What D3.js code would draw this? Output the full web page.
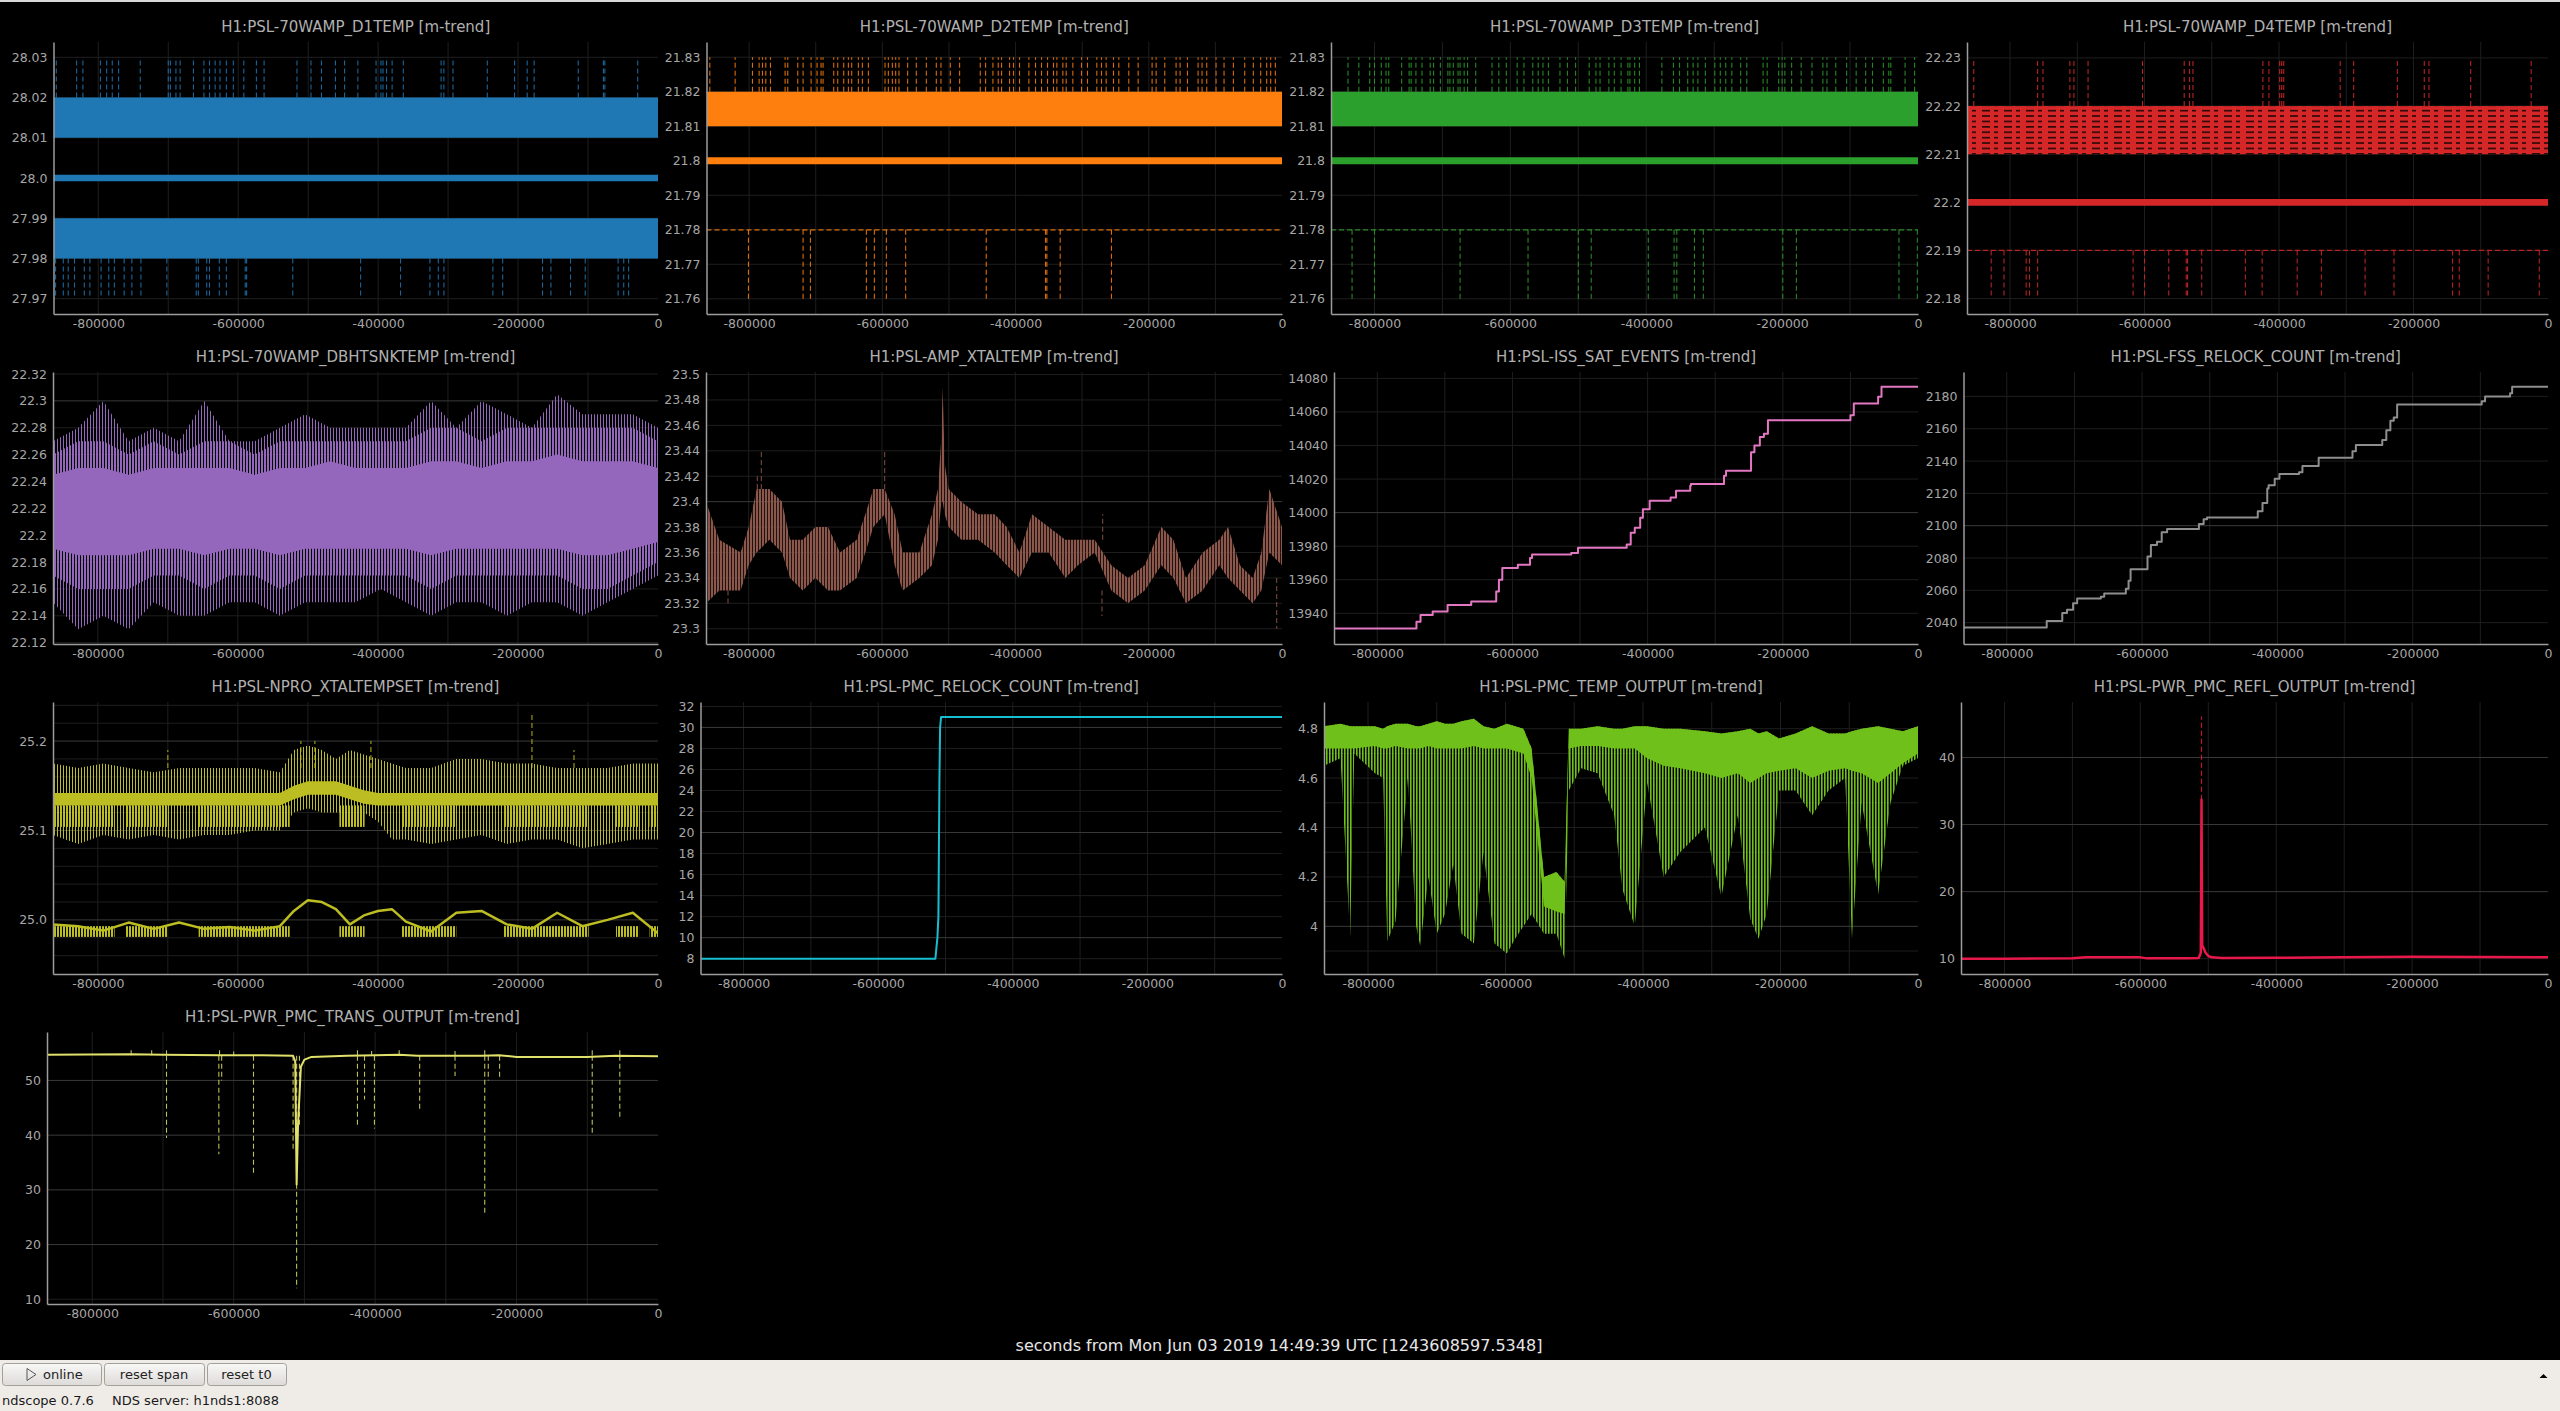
<!DOCTYPE html>
<html>
<head>
<meta charset="utf-8">
<script src="https://cdn.jsdelivr.net/npm/d3@7"></script>
<style>
  html, body { margin: 0; padding: 0; background: #000; overflow: hidden; }
  svg { display: block; }
</style>
</head>
<body>
<svg id="scope" width="2560" height="1411"></svg>
<script>
/*------------------------------
 DATA
 ----------------------------*/
const X_SPAN = [-864000, 0];
const xTickVals = [-800000, -600000, -400000, -200000, 0];
const xTickLabels = ["-800000", "-600000", "-400000", "-200000", "0"];
const xMinorVals = [-700000, -500000, -300000, -100000];

const TITLES = ["H1:PSL-70WAMP_D1TEMP [m-trend]", "H1:PSL-70WAMP_D2TEMP [m-trend]", "H1:PSL-70WAMP_D3TEMP [m-trend]",
  "H1:PSL-70WAMP_D4TEMP [m-trend]", "H1:PSL-70WAMP_DBHTSNKTEMP [m-trend]", "H1:PSL-AMP_XTALTEMP [m-trend]",
  "H1:PSL-ISS_SAT_EVENTS [m-trend]", "H1:PSL-FSS_RELOCK_COUNT [m-trend]", "H1:PSL-NPRO_XTALTEMPSET [m-trend]",
  "H1:PSL-PMC_RELOCK_COUNT [m-trend]", "H1:PSL-PMC_TEMP_OUTPUT [m-trend]", "H1:PSL-PWR_PMC_REFL_OUTPUT [m-trend]",
  "H1:PSL-PWR_PMC_TRANS_OUTPUT [m-trend]"];

// y ranges + ticks
const p1YRange = [27.9662, 28.0338];
const p1YTicks = [27.97, 27.98, 27.99, 28.0, 28.01, 28.02, 28.03];
const p1YLabels = ["27.97", "27.98", "27.99", "28.0", "28.01", "28.02", "28.03"];
const p2YRange = [21.7556, 21.8344];
const p2YTicks = [21.76, 21.77, 21.78, 21.79, 21.8, 21.81, 21.82, 21.83];
const p2YLabels = ["21.76", "21.77", "21.78", "21.79", "21.8", "21.81", "21.82", "21.83"];
const p4YRange = [22.1768, 22.2333];
const p4YTicks = [22.18, 22.19, 22.2, 22.21, 22.22, 22.23];
const p4YLabels = ["22.18", "22.19", "22.2", "22.21", "22.22", "22.23"];
const p5YRange = [22.119, 22.3215];
const p5YTicks = [22.12, 22.14, 22.16, 22.18, 22.2, 22.22, 22.24, 22.26, 22.28, 22.3, 22.32];
const p5YLabels = ["22.12", "22.14", "22.16", "22.18", "22.2", "22.22", "22.24", "22.26", "22.28", "22.3", "22.32"];
const p6YRange = [23.288, 23.502];
const p6YTicks = [23.3, 23.32, 23.34, 23.36, 23.38, 23.4, 23.42, 23.44, 23.46, 23.48, 23.5];
const p6YLabels = ["23.3", "23.32", "23.34", "23.36", "23.38", "23.4", "23.42", "23.44", "23.46", "23.48", "23.5"];
const p7YRange = [13921.7, 14083.8];
const p7YTicks = [13940, 13960, 13980, 14000, 14020, 14040, 14060, 14080];
const p7YLabels = ["13940", "13960", "13980", "14000", "14020", "14040", "14060", "14080"];
const p8YRange = [2026.8, 2195.1];
const p8YTicks = [2040, 2060, 2080, 2100, 2120, 2140, 2160, 2180];
const p8YLabels = ["2040", "2060", "2080", "2100", "2120", "2140", "2160", "2180"];
const p9YRange = [24.9395, 25.2437];
const p9YTicks = [25.0, 25.1, 25.2];
const p9YLabels = ["25.0", "25.1", "25.2"];
const p9YMinor = [24.96, 24.98, 25.02, 25.04, 25.06, 25.08, 25.12, 25.14, 25.16, 25.18, 25.22, 25.24];
const p10YRange = [6.543, 32.42];
const p10YTicks = [8, 10, 12, 14, 16, 18, 20, 22, 24, 26, 28, 30, 32];
const p10YLabels = ["8", "10", "12", "14", "16", "18", "20", "22", "24", "26", "28", "30", "32"];
const p11YRange = [3.807, 4.908];
const p11YTicks = [4.0, 4.2, 4.4, 4.6, 4.8];
const p11YLabels = ["4", "4.2", "4.4", "4.6", "4.8"];
const p11YMinor = [3.9, 4.1, 4.3, 4.5, 4.7];
const p12YRange = [7.72, 48.27];
const p12YTicks = [10, 20, 30, 40];
const p12YLabels = ["10", "20", "30", "40"];
const p13YRange = [9.14, 58.85];
const p13YTicks = [10, 20, 30, 40, 50];
const p13YLabels = ["10", "20", "30", "40", "50"];

// D1..D4 temps: max band, mean band, min band/level, spikes
const d1MaxBand = [28.01, 28.02];
const d1MeanBand = [27.9992, 28.0008];
const d1MinBand = [27.98, 27.99];
const d1UpTimes = [-860000, -831000, -822000, -797000, -788000, -780000, -771000, -740000, -700000, -697000, -689000,
  -683000, -664000, -649000, -641000, -633000, -626000, -617000, -607000, -592000, -574000, -563000, -516000, -496000,
  -481000, -461000, -448000, -429000, -403000, -396000, -393000, -388000, -380000, -364000, -310000, -306000, -293000,
  -244000, -205000, -187000, -177000, -114000, -78000, -76000, -29000];
const d1DownTimes = [-861000, -850000, -843000, -834000, -820000, -812000, -796000, -785000, -777000, -763000, -752000,
  -739000, -702000, -660000, -657000, -645000, -641000, -627000, -617000, -590000, -588000, -522000, -425000, -368000,
  -326000, -314000, -306000, -236000, -222000, -165000, -153000, -125000, -104000, -57000, -49000, -42000];

const d2MaxBand = [21.81, 21.82];
const d2MeanBand = [21.799, 21.801];
const d2MinLevel = 21.78;
const d2UpTimes = [-859000, -821000, -795000, -785000, -780000, -775000, -768000, -746000, -742000, -727000, -719000,
  -707000, -698000, -692000, -689000, -673000, -667000, -658000, -651000, -646000, -636000, -630000, -621000, -596000,
  -591000, -585000, -580000, -575000, -562000, -549000, -534000, -519000, -512000, -498000, -484000, -453000, -445000,
  -434000, -426000, -421000, -409000, -403000, -394000, -380000, -370000, -361000, -352000, -343000, -338000, -329000,
  -324000, -314000, -301000, -292000, -278000, -271000, -264000, -253000, -245000, -230000, -216000, -195000, -189000,
  -176000, -159000, -153000, -142000, -126000, -120000, -113000, -99000, -87000, -73000, -56000, -43000, -32000,
  -23000, -17000, -10000];
const d2DownTimes = [-801000, -719000, -708000, -624000, -612000, -594000, -565000, -444000, -355000, -353000, -333000, -256000];

const d3MaxBand = [21.81, 21.82];
const d3MeanBand = [21.799, 21.801];
const d3MinLevel = 21.78;
const d3UpTimes = [-839000, -823000, -807000, -800000, -790000, -783000, -779000, -760000, -749000, -746000, -739000,
  -730000, -718000, -713000, -703000, -692000, -689000, -684000, -677000, -674000, -668000, -663000, -651000, -627000,
  -617000, -606000, -590000, -580000, -567000, -559000, -552000, -544000, -527000, -516000, -504000, -484000, -474000,
  -468000, -455000, -447000, -437000, -427000, -424000, -417000, -410000, -377000, -360000, -351000, -339000, -331000,
  -324000, -313000, -299000, -291000, -283000, -274000, -261000, -252000, -228000, -222000, -205000, -200000, -196000,
  -186000, -172000, -156000, -140000, -134000, -121000, -105000, -91000, -77000, -67000, -51000, -43000, -40000,
  -19000, -5000];
const d3DownTimes = [-833000, -800000, -674000, -574000, -500000, -481000, -397000, -359000, -355000, -329000, -316000,
  -199000, -179000, -28000, -1000];

const d4MaxBand = [22.21, 22.22];
const d4MeanBand = [22.1993, 22.2007];
const d4MinLevel = 22.19;
const d4UpTimes = [-854000, -759000, -751000, -711000, -705000, -684000, -603000, -541000, -533000, -528000, -424000,
  -415000, -399000, -396000, -393000, -309000, -289000, -224000, -184000, -177000, -115000, -25000];
const d4DownTimes = [-828000, -809000, -776000, -771000, -759000, -617000, -600000, -564000, -538000, -536000, -515000,
  -450000, -425000, -373000, -337000, -272000, -229000, -142000, -132000, -89000, -13000];

// DBHTSNKTEMP: outer/mid/core envelopes
const p5Time = [-864000, -828000, -792000, -756000, -720000, -684000, -648000, -612000, -576000, -540000, -504000,
  -468000, -432000, -396000, -360000, -324000, -288000, -252000, -216000, -180000, -144000, -108000, -72000, -36000, 0];
const p5Max = [22.27, 22.28, 22.30, 22.27, 22.28, 22.27, 22.30, 22.27, 22.27, 22.28, 22.29, 22.28, 22.28, 22.28, 22.28,
  22.30, 22.28, 22.30, 22.29, 22.28, 22.305, 22.29, 22.29, 22.29, 22.28];
const p5Min = [22.15, 22.13, 22.14, 22.13, 22.15, 22.14, 22.14, 22.15, 22.15, 22.14, 22.15, 22.15, 22.15, 22.16, 22.15,
  22.14, 22.15, 22.15, 22.14, 22.15, 22.15, 22.14, 22.15, 22.16, 22.17];
const p5Hi = [22.26, 22.27, 22.27, 22.26, 22.27, 22.26, 22.27, 22.27, 22.26, 22.27, 22.27, 22.27, 22.27, 22.27, 22.27,
  22.28, 22.28, 22.27, 22.28, 22.28, 22.28, 22.28, 22.28, 22.28, 22.27];
const p5Lo = [22.17, 22.16, 22.16, 22.16, 22.17, 22.17, 22.16, 22.17, 22.17, 22.16, 22.17, 22.17, 22.17, 22.17, 22.17,
  22.16, 22.17, 22.17, 22.17, 22.17, 22.17, 22.16, 22.16, 22.17, 22.18];
const p5CoreHi = [22.245, 22.25, 22.25, 22.245, 22.25, 22.25, 22.25, 22.25, 22.245, 22.25, 22.25, 22.255, 22.25, 22.25,
  22.25, 22.255, 22.255, 22.25, 22.255, 22.255, 22.26, 22.255, 22.255, 22.255, 22.25];
const p5CoreLo = [22.19, 22.185, 22.185, 22.185, 22.19, 22.19, 22.185, 22.19, 22.19, 22.185, 22.19, 22.19, 22.19, 22.19,
  22.19, 22.185, 22.19, 22.19, 22.19, 22.19, 22.19, 22.185, 22.185, 22.19, 22.195];

// AMP_XTALTEMP envelope
const p6Time = [-864000, -844000, -812000, -800000, -788000, -769000, -750000, -738000, -719000, -700000, -681000,
  -663000, -638000, -625000, -613000, -596000, -581000, -569000, -544000, -525000, -516000, -511000, -509000, -506000,
  -500000, -481000, -456000, -431000, -413000, -394000, -375000, -350000, -325000, -306000, -281000, -256000, -231000,
  -206000, -181000, -163000, -144000, -119000, -94000, -81000, -63000, -44000, -31000, -19000, 0];
const p6Hi = [23.40, 23.37, 23.36, 23.38, 23.41, 23.41, 23.40, 23.37, 23.37, 23.38, 23.38, 23.36, 23.37, 23.39, 23.41,
  23.41, 23.39, 23.36, 23.36, 23.39, 23.41, 23.45, 23.49, 23.43, 23.41, 23.40, 23.39, 23.39, 23.38, 23.36, 23.39, 23.38,
  23.37, 23.37, 23.37, 23.35, 23.34, 23.35, 23.38, 23.37, 23.34, 23.36, 23.37, 23.38, 23.35, 23.34, 23.36, 23.41, 23.38];
const p6Lo = [23.32, 23.33, 23.33, 23.35, 23.36, 23.37, 23.36, 23.34, 23.33, 23.34, 23.33, 23.33, 23.34, 23.36, 23.38,
  23.39, 23.35, 23.33, 23.34, 23.35, 23.37, 23.40, 23.40, 23.39, 23.38, 23.37, 23.37, 23.36, 23.35, 23.34, 23.36, 23.36,
  23.34, 23.35, 23.36, 23.33, 23.32, 23.33, 23.35, 23.34, 23.32, 23.33, 23.35, 23.34, 23.33, 23.32, 23.33, 23.36, 23.35];
const p6SpikeTime = [-787000, -781000, -596000, -269000, -831000, -270000, -8000];
const p6SpikeFrom = [23.41, 23.41, 23.41, 23.37, 23.33, 23.33, 23.34];
const p6SpikeTo = [23.42, 23.44, 23.44, 23.39, 23.32, 23.31, 23.30];

// ISS_SAT_EVENTS steps
const p7Time = [-864000, -742000, -736000, -718000, -696000, -661000, -624000, -620000, -615000, -592000, -574000,
  -571000, -513000, -503000, -431000, -425000, -419000, -411000, -407000, -397000, -366000, -358000, -337000, -336000,
  -287000, -284000, -247000, -242000, -234000, -228000, -222000, -100000, -95000, -59000, -54000, 0];
const p7Count = [13931, 13935, 13939, 13941, 13945, 13947, 13953, 13960, 13967, 13969, 13973, 13975, 13976, 13979,
  13981, 13988, 13991, 13997, 14002, 14007, 14009, 14013, 14016, 14017, 14022, 14025, 14036, 14040, 14045, 14047,
  14055, 14058, 14065, 14069, 14075, 14075];

// FSS_RELOCK_COUNT steps
const p8Time = [-864000, -741000, -718000, -711000, -702000, -696000, -661000, -656000, -624000, -620000, -617000,
  -592000, -587000, -578000, -571000, -563000, -516000, -509000, -504000, -429000, -422000, -415000, -413000, -404000,
  -397000, -368000, -363000, -339000, -289000, -284000, -245000, -239000, -233000, -228000, -223000, -98000, -93000,
  -56000, -53000, 0];
const p8Count = [2037, 2041, 2046, 2048, 2052, 2055, 2056, 2058, 2061, 2066, 2073, 2081, 2088, 2090, 2096, 2098, 2101,
  2104, 2105, 2109, 2114, 2123, 2125, 2129, 2132, 2133, 2137, 2142, 2146, 2150, 2153, 2159, 2165, 2167, 2175, 2177,
  2180, 2182, 2186, 2186];

// NPRO_XTALTEMPSET
const p9Time = [-864000, -828000, -792000, -756000, -720000, -684000, -648000, -612000, -576000, -540000, -520000,
  -500000, -480000, -460000, -440000, -420000, -400000, -380000, -360000, -324000, -288000, -252000, -216000, -180000,
  -144000, -108000, -72000, -36000, 0];
const p9UpHi = [25.175, 25.17, 25.175, 25.17, 25.165, 25.17, 25.17, 25.17, 25.17, 25.165, 25.19, 25.195, 25.19, 25.18,
  25.19, 25.185, 25.18, 25.175, 25.17, 25.17, 25.18, 25.18, 25.175, 25.175, 25.17, 25.17, 25.17, 25.175, 25.175];
const p9UpLo = [25.095, 25.085, 25.095, 25.09, 25.095, 25.09, 25.095, 25.095, 25.10, 25.10, 25.12, 25.125, 25.12, 25.12,
  25.12, 25.12, 25.11, 25.09, 25.09, 25.085, 25.09, 25.095, 25.085, 25.09, 25.09, 25.08, 25.085, 25.09, 25.09];
const p9CoreHi = [25.142, 25.142, 25.142, 25.142, 25.142, 25.142, 25.142, 25.142, 25.142, 25.142, 25.15, 25.155, 25.155,
  25.155, 25.15, 25.145, 25.142, 25.142, 25.142, 25.142, 25.142, 25.142, 25.142, 25.142, 25.142, 25.142, 25.142, 25.142, 25.142];
const p9CoreLo = [25.128, 25.128, 25.128, 25.128, 25.128, 25.128, 25.128, 25.128, 25.128, 25.128, 25.135, 25.14, 25.14,
  25.14, 25.135, 25.13, 25.128, 25.128, 25.128, 25.128, 25.128, 25.128, 25.128, 25.128, 25.128, 25.128, 25.128, 25.128, 25.128];
const p9Low = [24.995, 24.993, 24.988, 24.997, 24.99, 24.997, 24.99, 24.992, 24.988, 24.993, 25.01, 25.022, 25.02,
  25.012, 24.995, 25.005, 25.01, 25.012, 24.998, 24.987, 25.008, 25.01, 24.995, 24.99, 25.008, 24.993, 25.0, 25.008, 24.985];
const p9PatchStart = [-864000, -760000, -656000, -455000, -366000, -220000, -60000, -12000];
const p9PatchEnd = [-776000, -700000, -526000, -419000, -288000, -99000, -27000, 0];
const p9UpPatch = [25.104, 25.128];
const p9LowPatch = [24.981, 24.993];
const p9SpikeTime = [-510000, -490000, -410000, -180000, -700000, -120000];
const p9SpikeTop = [25.20, 25.20, 25.20, 25.23, 25.19, 25.19];

// PMC_RELOCK_COUNT
const p10Time = [-864000, -515000, -512000, -510500, -509000, -508000, -506500, 0];
const p10Count = [8, 8, 10, 12, 25, 30, 31, 31];

// PMC_TEMP_OUTPUT
const p11Time = [-864000, -840000, -826000, -820000, -790000, -778000, -772000, -760000, -742000, -730000, -724000,
  -712000, -700000, -688000, -676000, -664000, -646000, -632000, -616000, -598000, -586000, -574000, -562000, -544000,
  -526000, -514000, -508000, -490000, -466000, -442000, -430000, -412000, -394000, -370000, -346000, -310000, -286000,
  -262000, -244000, -232000, -220000, -202000, -178000, -154000, -130000, -106000, -96000, -82000, -58000, -40000, -22000, 0];
const p11Max = [4.81, 4.82, 4.81, 4.81, 4.81, 4.80, 4.81, 4.82, 4.82, 4.81, 4.81, 4.82, 4.83, 4.82, 4.82, 4.83, 4.84,
  4.81, 4.80, 4.82, 4.81, 4.80, 4.72, 4.20, 4.22, 4.18, 4.80, 4.80, 4.81, 4.80, 4.80, 4.81, 4.81, 4.80, 4.80, 4.79, 4.78,
  4.79, 4.80, 4.78, 4.79, 4.76, 4.78, 4.81, 4.78, 4.78, 4.79, 4.80, 4.81, 4.80, 4.79, 4.81];
const p11CoreLo = [4.72, 4.72, 4.72, 4.72, 4.73, 4.72, 4.72, 4.73, 4.72, 4.72, 4.72, 4.73, 4.72, 4.72, 4.72, 4.72, 4.73,
  4.72, 4.72, 4.72, 4.71, 4.70, 4.60, 4.08, 4.06, 4.05, 4.72, 4.73, 4.73, 4.72, 4.72, 4.72, 4.68, 4.65, 4.64, 4.62, 4.60,
  4.62, 4.58, 4.60, 4.62, 4.63, 4.64, 4.60, 4.63, 4.64, 4.63, 4.62, 4.58, 4.62, 4.66, 4.70];
const p11Min = [4.65, 4.68, 3.96, 4.70, 4.62, 4.60, 3.94, 4.02, 4.60, 4.00, 3.92, 4.20, 3.97, 4.05, 4.25, 3.97, 3.93,
  4.30, 3.93, 3.89, 3.95, 4.00, 4.05, 3.97, 3.97, 3.87, 4.55, 4.64, 4.62, 4.45, 4.15, 4.00, 4.58, 4.20, 4.30, 4.40, 4.12,
  4.45, 4.03, 3.95, 4.05, 4.55, 4.55, 4.45, 4.55, 4.60, 3.95, 4.50, 4.13, 4.50, 4.65, 4.68];

// PWR_PMC_REFL_OUTPUT
const p12Time = [-864000, -800000, -700000, -680000, -600000, -590000, -530000, -514000, -511000, -510000, -509000,
  -507000, -504000, -500000, -495000, -480000, -400000, -300000, -250000, -200000, -100000, 0];
const p12Val = [10.0, 10.0, 10.05, 10.2, 10.2, 10.05, 10.05, 10.1, 10.9, 33.7, 12.0, 11.6, 10.9, 10.4, 10.2, 10.1,
  10.15, 10.2, 10.25, 10.3, 10.25, 10.2];
const p12SpikeTime = [-510000];
const p12SpikeTop = [46.1];

// PWR_PMC_TRANS_OUTPUT
const p13Time = [-864000, -745000, -700000, -620000, -560000, -516000, -513000, -511000, -509000, -505000, -500000,
  -490000, -440000, -400000, -366000, -340000, -250000, -225000, -200000, -100000, -60000, 0];
const p13Val = [54.7, 54.8, 54.7, 54.6, 54.6, 54.5, 53.5, 31.0, 42.0, 52.5, 53.8, 54.3, 54.5, 54.6, 54.7, 54.5, 54.5,
  54.6, 54.3, 54.3, 54.5, 54.4];
const p13DipTime = [-695000, -621000, -617000, -572000, -516000, -511000, -507000, -425000, -415000, -401000, -337000,
  -287000, -245000, -240000, -224000, -93000, -54000];
const p13DipBottom = [39.5, 36.5, 50.0, 32.8, 37.0, 12.0, 41.5, 41.5, 46.5, 41.2, 44.5, 50.8, 25.8, 50.0, 50.5, 40.3, 42.8];
const p13UpTime = [-745000, -716000, -695000, -620000, -600000, -425000, -405000, -366000, -287000, -245000, -93000, -54000];
const p13UpTop = [55.7, 55.8, 55.5, 55.5, 55.3, 55.6, 55.4, 56.0, 55.4, 55.6, 55.5, 55.6];

/*------------------------------
 LAYOUT / STYLE
 ----------------------------*/
const FONT = "'DejaVu Sans', sans-serif";
const COLORS = ["#1f77b4", "#ff7f0e", "#2ca02c", "#d62728", "#9467bd", "#8c564b", "#e377c2", "#8e8e8e",
  "#bcbd22", "#17becf", "#6fc01b", "#e8194a", "#e0e06a"];
const COL_RIGHT = [658, 1282, 1918, 2548];
const ROW_TOP = [42, 372, 702, 1032];
const PLOT_H = 272;
const PLOT_LEFT = [53.5, 706.5, 1331, 1967, 53, 706, 1334, 1963.5, 53, 700.5, 1324, 1961, 47];
const GRID = "#1e1e1e";
const GRID_BRIGHT = "#3a3a3a";

const svg = d3.select("#scope");
const defs = svg.append("defs");
svg.append("rect").attr("width", 2560).attr("height", 1411).attr("fill", "#000");
svg.append("rect").attr("width", 2560).attr("height", 2).attr("fill", "#d8d8d8");

/*------------------------------
 FUNCTIONS
 ----------------------------*/
// thin vertical hatching, stands in for the dense min/max sweeps
function stripes(id, color, period, width) {
  const p = defs.append("pattern").attr("id", id).attr("patternUnits", "userSpaceOnUse")
    .attr("width", period).attr("height", 10);
  p.append("rect").attr("width", width).attr("height", 10).attr("fill", color);
  return `url(#${id})`;
}

function pick(v, k) { return Array.isArray(v) ? v[k] : v; }

function makePanel(i, yRange, yTicks, yLabels, yMinor, yBright) {
  const col = i % 4, row = Math.floor(i / 4);
  const L = PLOT_LEFT[i], R = COL_RIGHT[col], T = ROW_TOP[row], B = T + PLOT_H;
  const x = d3.scaleLinear().domain(X_SPAN).range([L, R]);
  const y = d3.scaleLinear().domain(yRange).range([B, T]);
  const g = svg.append("g");

  // grid
  const vlines = xTickVals.concat(xMinorVals).filter(v => v > X_SPAN[0] && v < X_SPAN[1]);
  g.append("g").selectAll("line").data(vlines).join("line")
    .attr("x1", d => x(d)).attr("x2", d => x(d)).attr("y1", T).attr("y2", B)
    .attr("stroke", GRID).attr("stroke-width", 1);
  const hlines = yTicks.concat(yMinor || []).filter(v => v > yRange[0] && v < yRange[1]);
  g.append("g").selectAll("line").data(hlines).join("line")
    .attr("x1", L).attr("x2", R).attr("y1", d => y(d)).attr("y2", d => y(d))
    .attr("stroke", d => (yBright || []).includes(d) ? GRID_BRIGHT : GRID).attr("stroke-width", 1);

  g.append("text").attr("x", (L + R) / 2).attr("y", T - 10).attr("text-anchor", "middle")
    .attr("fill", "#b0b0b0").attr("font-size", 15).attr("font-family", FONT).text(TITLES[i]);

  defs.append("clipPath").attr("id", "clip" + i).append("rect")
    .attr("x", L).attr("y", T).attr("width", R - L).attr("height", B - T);
  const plot = g.append("g").attr("clip-path", `url(#clip${i})`);

  const axes = g.append("g");
  axes.append("g").attr("transform", `translate(0,${B})`)
    .call(d3.axisBottom(x).tickValues(xTickVals).tickFormat((d, k) => xTickLabels[k])
      .tickSize(0).tickSizeOuter(0).tickPadding(5));
  axes.append("g").attr("transform", `translate(${L},0)`)
    .call(d3.axisLeft(y).tickValues(yTicks).tickFormat((d, k) => yLabels[k])
      .tickSize(0).tickSizeOuter(0).tickPadding(6));
  axes.selectAll(".domain").attr("stroke", "#9c9c9c").attr("stroke-width", 1.5);
  axes.selectAll("text").attr("fill", "#a6a6a6").attr("font-size", 12.5).attr("font-family", FONT);

  return { plot, x, y, color: COLORS[i] };
}

function band(p, lohi, fill) {
  const a = d3.area().x(d => p.x(d)).y0(p.y(lohi[0])).y1(p.y(lohi[1]));
  p.plot.append("path").datum(X_SPAN).attr("d", a).attr("fill", fill);
}

function level(p, v, color) {
  p.plot.append("line").attr("x1", p.x(X_SPAN[0])).attr("x2", p.x(X_SPAN[1]))
    .attr("y1", p.y(v)).attr("y2", p.y(v))
    .attr("stroke", color).attr("stroke-width", 1.2).attr("stroke-dasharray", "5,3").attr("opacity", 0.85);
}

function spikes(p, times, from, to, color) {
  p.plot.append("g").selectAll("line").data(times).join("line")
    .attr("x1", d => p.x(d)).attr("x2", d => p.x(d))
    .attr("y1", (d, k) => p.y(pick(from, k))).attr("y2", (d, k) => p.y(pick(to, k)))
    .attr("stroke", color).attr("stroke-width", 1.1).attr("stroke-dasharray", "5,3").attr("opacity", 0.85);
}

function envelope(p, t, hi, lo, fill) {
  const a = d3.area().x((d, k) => p.x(t[k])).y0((d, k) => p.y(lo[k])).y1((d, k) => p.y(hi[k]));
  p.plot.append("path").datum(t).attr("d", a).attr("fill", fill);
}

function trace(p, t, v, color, width, curve) {
  const l = d3.line().x((d, k) => p.x(t[k])).y((d, k) => p.y(v[k])).curve(curve || d3.curveLinear);
  p.plot.append("path").datum(t).attr("d", l).attr("fill", "none")
    .attr("stroke", color).attr("stroke-width", width).attr("stroke-linejoin", "round");
}

function patches(p, starts, ends, lohi, fill) {
  p.plot.append("g").selectAll("rect").data(starts).join("rect")
    .attr("x", d => p.x(d)).attr("width", (d, k) => p.x(ends[k]) - p.x(d))
    .attr("y", p.y(lohi[1])).attr("height", p.y(lohi[0]) - p.y(lohi[1])).attr("fill", fill);
}

/*------------------------------
 PANELS
 ----------------------------*/
// D1
let p = makePanel(0, p1YRange, p1YTicks, p1YLabels);
spikes(p, d1UpTimes, d1MaxBand[1], 28.03, p.color);
spikes(p, d1DownTimes, d1MinBand[0], 27.97, p.color);
band(p, d1MaxBand, p.color);
band(p, d1MinBand, p.color);
band(p, d1MeanBand, p.color);

// D2
p = makePanel(1, p2YRange, p2YTicks, p2YLabels);
spikes(p, d2UpTimes, d2MaxBand[1], 21.83, p.color);
spikes(p, d2DownTimes, d2MinLevel, 21.76, p.color);
level(p, d2MinLevel, p.color);
band(p, d2MaxBand, p.color);
band(p, d2MeanBand, p.color);

// D3
p = makePanel(2, p2YRange, p2YTicks, p2YLabels);
spikes(p, d3UpTimes, d3MaxBand[1], 21.83, p.color);
spikes(p, d3DownTimes, d3MinLevel, 21.76, p.color);
level(p, d3MinLevel, p.color);
band(p, d3MaxBand, p.color);
band(p, d3MeanBand, p.color);

// D4 - max band has that dashed texture
p = makePanel(3, p4YRange, p4YTicks, p4YLabels);
const tex = defs.append("pattern").attr("id", "d4tex").attr("patternUnits", "userSpaceOnUse")
  .attr("width", 22).attr("height", 5.4);
tex.append("rect").attr("width", 22).attr("height", 5.4).attr("fill", COLORS[3]);
tex.append("rect").attr("x", 2).attr("y", 2).attr("width", 8).attr("height", 1.3).attr("fill", "#000");
tex.append("rect").attr("x", 14).attr("y", 2).attr("width", 4).attr("height", 1.3).attr("fill", "#000");
spikes(p, d4UpTimes, d4MaxBand[1], 22.23, p.color);
spikes(p, d4DownTimes, d4MinLevel, 22.18, p.color);
level(p, d4MinLevel, p.color);
band(p, d4MaxBand, "url(#d4tex)");
band(p, d4MeanBand, p.color);

// DBHTSNKTEMP
p = makePanel(4, p5YRange, p5YTicks, p5YLabels, [], [22.2, 22.3]);
envelope(p, p5Time, p5Max, p5Min, stripes("p5outer", p.color, 3, 1));
envelope(p, p5Time, p5Hi, p5Lo, stripes("p5mid", p.color, 3, 2));
envelope(p, p5Time, p5CoreHi, p5CoreLo, p.color);

// AMP_XTALTEMP
p = makePanel(5, p6YRange, p6YTicks, p6YLabels, [], [23.4]);
spikes(p, p6SpikeTime, p6SpikeFrom, p6SpikeTo, p.color);
envelope(p, p6Time, p6Hi, p6Lo, stripes("p6tex", p.color, 3, 2.2));

// ISS_SAT_EVENTS
p = makePanel(6, p7YRange, p7YTicks, p7YLabels, [], [14000]);
trace(p, p7Time, p7Count, p.color, 2, d3.curveStepAfter);

// FSS_RELOCK_COUNT
p = makePanel(7, p8YRange, p8YTicks, p8YLabels, [], [2100]);
trace(p, p8Time, p8Count, p.color, 2, d3.curveStepAfter);

// NPRO_XTALTEMPSET
p = makePanel(8, p9YRange, p9YTicks, p9YLabels, p9YMinor, [25.0, 25.1, 25.2]);
spikes(p, p9SpikeTime, 25.17, p9SpikeTop, p.color);
envelope(p, p9Time, p9UpHi, p9UpLo, stripes("p9outer", p.color, 3, 1));
const p9dense = stripes("p9dense", p.color, 3, 2);
patches(p, p9PatchStart, p9PatchEnd, p9UpPatch, p9dense);
patches(p, p9PatchStart, p9PatchEnd, p9LowPatch, p9dense);
envelope(p, p9Time, p9CoreHi, p9CoreLo, p.color);
trace(p, p9Time, p9Low, p.color, 2.5);

// PMC_RELOCK_COUNT
p = makePanel(9, p10YRange, p10YTicks, p10YLabels, [], [10, 20, 30]);
trace(p, p10Time, p10Count, p.color, 2);

// PMC_TEMP_OUTPUT
p = makePanel(10, p11YRange, p11YTicks, p11YLabels, p11YMinor, [4.0]);
envelope(p, p11Time, p11Max, p11Min, stripes("p11outer", p.color, 3, 1.6));
envelope(p, p11Time, p11Max, p11CoreLo, p.color);

// PWR_PMC_REFL_OUTPUT
p = makePanel(11, p12YRange, p12YTicks, p12YLabels, [], [20, 30, 40]);
spikes(p, p12SpikeTime, 33.7, p12SpikeTop, p.color);
trace(p, p12Time, p12Val, p.color, 2.5);

// PWR_PMC_TRANS_OUTPUT
p = makePanel(12, p13YRange, p13YTicks, p13YLabels, [], [20, 30, 40, 50]);
spikes(p, p13DipTime, 54.5, p13DipBottom, p.color);
spikes(p, p13UpTime, 54.6, p13UpTop, p.color);
trace(p, p13Time, p13Val, p.color, 2);

/*------------------------------
 FOOTER / TOOLBAR
 ----------------------------*/
svg.append("text").attr("x", 1279).attr("y", 1351).attr("text-anchor", "middle")
  .attr("fill", "#e6e6e6").attr("font-size", 16).attr("font-family", FONT)
  .text("seconds from Mon Jun 03 2019 14:49:39 UTC [1243608597.5348]");

svg.append("rect").attr("y", 1360).attr("width", 2560).attr("height", 51).attr("fill", "#efece8");
const grad = defs.append("linearGradient").attr("id", "btn").attr("x1", 0).attr("y1", 0).attr("x2", 0).attr("y2", 1);
grad.append("stop").attr("offset", "0%").attr("stop-color", "#f8f8f7");
grad.append("stop").attr("offset", "100%").attr("stop-color", "#dddbd8");
const buttons = [{ label: "online", x: 2, w: 99 }, { label: "reset span", x: 104, w: 100 }, { label: "reset t0", x: 207, w: 79 }];
buttons.forEach(b => {
  svg.append("rect").attr("x", b.x + 0.5).attr("y", 1363.5).attr("width", b.w).attr("height", 22).attr("rx", 3)
    .attr("fill", "url(#btn)").attr("stroke", "#a3a09b");
  const tx = b.label === "online" ? 43 : b.x + b.w / 2;
  svg.append("text").attr("x", tx).attr("y", 1379).attr("text-anchor", b.label === "online" ? "start" : "middle")
    .attr("fill", "#222").attr("font-size", 13).attr("font-family", FONT).text(b.label);
});
svg.append("path").attr("d", "M27,1368.5 L36,1374.5 L27,1380.5 Z").attr("fill", "none").attr("stroke", "#555").attr("stroke-width", 1);
svg.append("text").attr("x", 2).attr("y", 1405).attr("fill", "#1a1a1a").attr("font-size", 13).attr("font-family", FONT)
  .text("ndscope 0.7.6");
svg.append("text").attr("x", 112).attr("y", 1405).attr("fill", "#1a1a1a").attr("font-size", 13).attr("font-family", FONT)
  .text("NDS server: h1nds1:8088");
svg.append("path").attr("d", "M2539.5,1378 L2543.5,1374 L2547.5,1378 Z").attr("fill", "#000");
</script>
</body>
</html>
